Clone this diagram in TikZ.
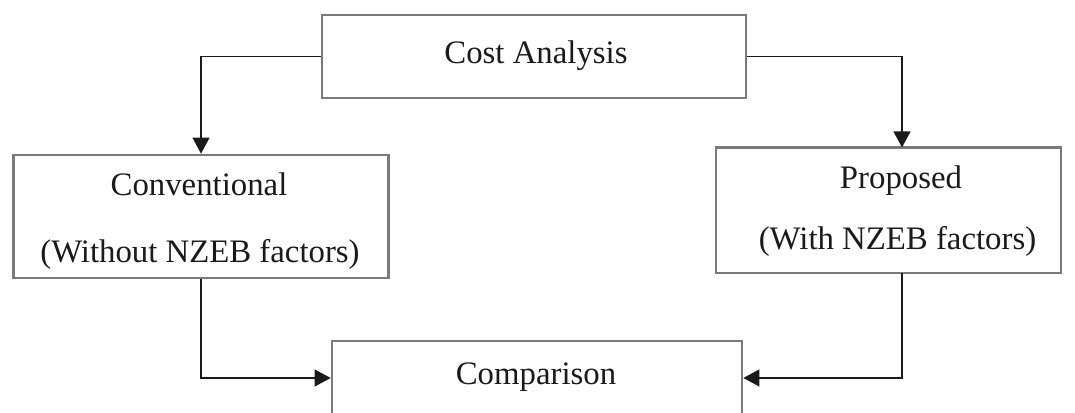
\documentclass[tikz,border=0pt]{standalone}
\usepackage{fontspec}
\setmainfont{Liberation Serif}
\usetikzlibrary{arrows.meta}
\definecolor{boxline}{HTML}{7A7A7A}
\definecolor{ink}{HTML}{1A1A1A}
\tikzset{
  box/.style={draw=boxline, line width=1.9pt, fill=white, inner sep=0pt},
  label/.style={anchor=base, text=ink, font=\fontsize{24.6pt}{28pt}\selectfont, inner sep=0pt},
  link/.style={draw=ink, line width=1.4pt, -{Triangle[length=12pt,width=12.5pt]}}
}
\begin{document}
\begin{tikzpicture}[x=0.75pt,y=-0.75pt]
  \useasboundingbox (0,0) rectangle (1075,413);
  \clip (0,0) rectangle (1075,413);
  % boxes
  \node[box, minimum width=318pt, minimum height=62.25pt] (cost) at (534,56.5) {};
  \node[box, minimum width=281.25pt, minimum height=92.25pt] (conv) at (201,216.5) {};
  \node[box, minimum width=258.75pt, minimum height=94.1pt] (prop) at (888.5,210.25) {};
  \node[box, minimum width=307.5pt, minimum height=55.5pt] (comp) at (537,378) {};
  % texts
  \node[label] (costtxt) at (536,64) {Cost Analysis};
  \node[label] (convtxt1) at (199,196) {Conventional};
  \node[label] (convtxt2) at (200,263) {(Without NZEB factors)};
  \node[label] (proptxt1) at (901,189) {Proposed};
  \node[label] (proptxt2) at (897.5,250) {(With NZEB factors)};
  \node[label] (comptxt) at (536,384) {Comparison};
  % connector turning points
  \coordinate (propin) at (902,147.5);
  \coordinate (propout) at (902,273);
  % connectors
  \draw[link] (cost.west) -| (conv.north);
  \draw[link] (cost.east) -| (propin);
  \draw[link] (conv.south) |- (comp.west);
  \draw[link] (propout) |- (comp.east);
\end{tikzpicture}
\end{document}
